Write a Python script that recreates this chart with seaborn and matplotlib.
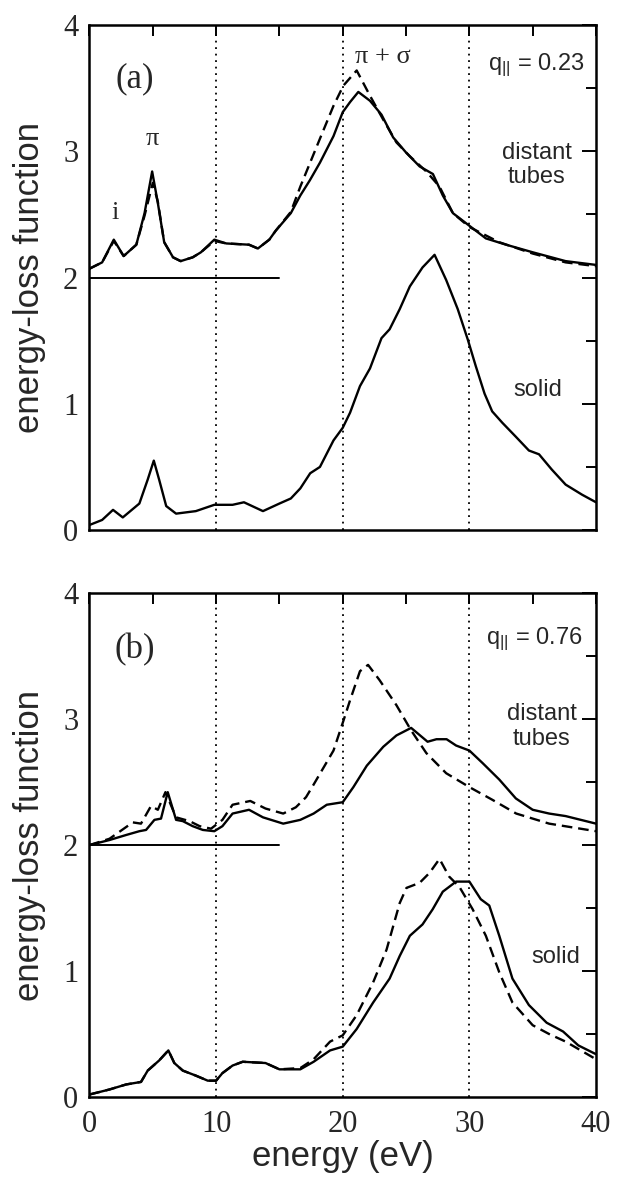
import numpy as np
import pandas as pd
import seaborn as sns
import matplotlib.pyplot as plt
from matplotlib.ticker import MultipleLocator

sns.set_style("white")
plt.rcParams['font.family'] = ['Liberation Sans', 'DejaVu Sans']
plt.rcParams['mathtext.fontset'] = 'custom'
plt.rcParams['mathtext.rm'] = 'Liberation Sans'
plt.rcParams['mathtext.it'] = 'Liberation Sans'

# ---- panel (a), q = 0.23 ----
a_dist_E = [0, 1.0, 1.92, 2.7, 3.7, 4.35, 4.95, 5.4, 5.9, 6.6, 7.2, 8.15, 8.8, 9.86, 10.8,
            12.6, 13.3, 14.2, 14.7, 15.9, 16.65, 17.4, 18.2, 19.27, 20.0, 20.58, 21.23,
            22.15, 23.06, 23.98, 25.0, 26.07, 27.12, 27.9, 28.7, 30.0, 31.3, 32.9, 35.0,
            37.6, 40]
a_dist_solid = [2.07, 2.12, 2.30, 2.17, 2.26, 2.51, 2.84, 2.59, 2.28, 2.16, 2.13, 2.16, 2.20,
                2.30, 2.27, 2.26, 2.23, 2.30, 2.37, 2.51, 2.65, 2.77, 2.91, 3.12, 3.31, 3.39,
                3.47, 3.40, 3.29, 3.11, 2.99, 2.88, 2.82, 2.65, 2.51, 2.41, 2.31, 2.26, 2.20,
                2.13, 2.10]

a_dash_E = [0, 1.0, 1.92, 2.7, 3.7, 4.35, 5.0, 5.4, 5.9, 6.6, 7.2, 8.15, 8.8, 9.86, 10.8,
            12.6, 13.3, 14.2, 14.7, 15.9, 16.65, 18.2, 19.27, 20.05, 21.1, 22.15, 23.2,
            24.24, 25.3, 26.6, 27.64, 28.7, 30.0, 32.35, 35.0, 37.6, 40]
a_dist_dashed = [2.07, 2.12, 2.29, 2.17, 2.26, 2.49, 2.75, 2.60, 2.28, 2.16, 2.13, 2.16, 2.20,
                 2.29, 2.27, 2.26, 2.23, 2.30, 2.37, 2.52, 2.72, 3.10, 3.36, 3.52, 3.64, 3.44,
                 3.25, 3.07, 2.96, 2.84, 2.72, 2.51, 2.40, 2.28, 2.19, 2.12, 2.09]

a_bulk_E = [0, 1.0, 1.86, 2.63, 3.94, 4.6, 5.08, 5.5, 6.06, 6.84, 8.4, 9.86, 11.3, 12.2, 13.7,
            15.0, 15.9, 16.65, 17.43, 18.2, 19.27, 20.0, 20.58, 21.36, 22.15, 23.06, 23.7,
            24.5, 25.3, 26.3, 27.25, 28.17, 29.08, 29.87, 30.5, 31.2, 31.8, 32.6, 33.66,
            34.7, 35.5, 36.5, 37.6, 38.9, 40]
a_bulk_solid = [0.04, 0.08, 0.16, 0.10, 0.21, 0.40, 0.55, 0.40, 0.19, 0.13, 0.15, 0.20, 0.20,
                0.22, 0.15, 0.21, 0.25, 0.33, 0.45, 0.50, 0.71, 0.81, 0.93, 1.14, 1.28, 1.52,
                1.59, 1.75, 1.93, 2.08, 2.18, 1.98, 1.75, 1.51, 1.30, 1.08, 0.94, 0.85, 0.74,
                0.63, 0.60, 0.48, 0.36, 0.28, 0.22]

# ---- panel (b), q = 0.76 ----
b_dist_E = [0, 1.58, 2.9, 3.94, 4.47, 5.13, 5.65, 6.18, 6.84, 7.37, 8.15, 8.95, 9.86, 10.5,
            11.3, 12.6, 13.7, 15.3, 16.65, 17.7, 18.74, 20.0, 20.84, 21.9, 23.2, 24.24, 25.4,
            26.7, 27.4, 28.2, 28.95, 30.0, 31.05, 32.36, 33.67, 35.0, 36.3, 37.6, 40]
b_dist_solid = [2.0, 2.04, 2.08, 2.11, 2.12, 2.20, 2.21, 2.42, 2.20, 2.19, 2.15, 2.12, 2.11,
                2.15, 2.25, 2.28, 2.22, 2.17, 2.20, 2.25, 2.32, 2.34, 2.46, 2.63, 2.78, 2.87,
                2.93, 2.82, 2.84, 2.84, 2.79, 2.75, 2.65, 2.52, 2.37, 2.28, 2.25, 2.23, 2.17]

b_dash_E = [0, 1.58, 3.42, 4.07, 4.86, 5.4, 6.0, 6.84, 7.9, 8.7, 9.6, 10.5, 11.3, 12.7, 13.9,
            15.3, 16.3, 17.1, 17.7, 19.27, 20.0, 20.58, 21.36, 22.0, 22.9, 24.24, 25.4, 26.6,
            28.17, 30.0, 31.8, 33.7, 36.3, 40]
b_dist_dashed = [2.0, 2.05, 2.18, 2.17, 2.31, 2.28, 2.42, 2.22, 2.19, 2.15, 2.13, 2.20, 2.32,
                 2.35, 2.29, 2.25, 2.30, 2.38, 2.48, 2.75, 2.97, 3.15, 3.38, 3.43, 3.31, 3.11,
                 2.91, 2.73, 2.57, 2.46, 2.36, 2.25, 2.17, 2.11]

b_bulk_E = [0, 1.58, 2.9, 4.07, 4.6, 5.5, 6.23, 6.7, 7.37, 8.4, 9.34, 10.0, 10.5, 11.3, 12.1,
            13.9, 15.0, 16.65, 17.7, 19.0, 20.0, 21.1, 22.4, 23.7, 24.5, 25.3, 26.3, 27.1,
            27.9, 28.95, 30.0, 30.9, 31.57, 32.36, 33.4, 34.7, 36.1, 37.4, 38.6, 40]
b_bulk_solid = [0.02, 0.06, 0.10, 0.12, 0.21, 0.29, 0.37, 0.27, 0.21, 0.17, 0.13, 0.13, 0.19,
                0.25, 0.28, 0.27, 0.22, 0.22, 0.28, 0.37, 0.40, 0.54, 0.75, 0.94, 1.12, 1.28,
                1.37, 1.49, 1.63, 1.71, 1.71, 1.57, 1.52, 1.28, 0.94, 0.73, 0.59, 0.52, 0.41,
                0.34]

b_bulk_dash_E = [0, 1.58, 2.9, 4.07, 4.6, 5.5, 6.23, 6.7, 7.37, 8.4, 9.34, 10.0, 10.5, 11.3,
                 12.1, 13.9, 15.0, 16.65, 17.7, 19.0, 20.0, 21.1, 22.4, 23.46, 24.5, 25.03,
                 26.07, 26.86, 27.64, 28.4, 29.2, 30.26, 31.3, 32.36, 33.4, 35.0, 36.3, 37.6, 40]
b_bulk_dashed = [0.02, 0.06, 0.10, 0.12, 0.21, 0.29, 0.37, 0.27, 0.21, 0.17, 0.13, 0.13, 0.19,
                 0.25, 0.28, 0.27, 0.22, 0.23, 0.30, 0.44, 0.49, 0.65, 0.91, 1.17, 1.54, 1.66,
                 1.70, 1.78, 1.89, 1.75, 1.67, 1.49, 1.28, 0.99, 0.75, 0.57, 0.50, 0.44, 0.30]

x_ticks = [0, 10, 20, 30, 40]
y_ticks = [0, 1, 2, 3, 4]
guide_lines = [10, 20, 30]
baseline_level = 2
baseline_end = 15

serif = ['Liberation Serif', 'DejaVu Serif']
sans = ['Liberation Sans', 'DejaVu Sans']
DASH = (0, (4.5, 2.5))

fig = plt.figure(figsize=(6.17, 11.8), dpi=100)
ax_a = fig.add_axes([0.145, 0.5508, 0.821, 0.4280])
ax_b = fig.add_axes([0.145, 0.0703, 0.821, 0.4271])


def style_axes(ax, show_xlabels):
    ax.set_xlim(0, 40)
    ax.set_ylim(0, 4)
    ax.xaxis.set_major_locator(MultipleLocator(10))
    ax.xaxis.set_minor_locator(MultipleLocator(5))
    ax.yaxis.set_major_locator(MultipleLocator(1))
    ax.yaxis.set_minor_locator(MultipleLocator(0.5))
    ax.tick_params(which='both', direction='in', top=True, right=True, width=1.4, color='black')
    ax.tick_params(axis='y', which='major', length=10, pad=8)
    ax.tick_params(axis='y', which='minor', length=7)
    ax.tick_params(axis='x', which='both', length=8, pad=9)
    ax.set_yticks(y_ticks)
    ax.set_yticklabels([str(t) for t in y_ticks], fontsize=22, family=serif)
    ax.set_xticks(x_ticks)
    if show_xlabels:
        ax.set_xticklabels([str(t) for t in x_ticks], fontsize=22, family=serif)
        ax.set_xlabel('energy (eV)', fontsize=25, family=sans)
        ax.xaxis.set_label_coords(0.5, -0.085)
    else:
        ax.set_xticklabels([])
    ax.set_ylabel('energy-loss function', fontsize=25, family=sans)
    ax.yaxis.set_label_coords(-0.085, 0.5)
    for s in ax.spines.values():
        s.set_linewidth(1.8)
        s.set_color('black')
    for g in guide_lines:
        ax.axvline(g, color='black', linestyle=(0, (1, 2.6)), linewidth=1.3, zorder=1)
    ax.plot([0, baseline_end], [baseline_level, baseline_level], color='black', linewidth=1.4)


# panel (a)
sns.lineplot(x=a_dist_E, y=a_dist_solid, ax=ax_a, color='black', linewidth=1.7)
sns.lineplot(x=a_dash_E, y=a_dist_dashed, ax=ax_a, color='black', linewidth=1.7, linestyle=DASH)
sns.lineplot(x=a_bulk_E, y=a_bulk_solid, ax=ax_a, color='black', linewidth=1.7)
style_axes(ax_a, False)
ax_a.text(3.6, 3.57, '(a)', fontsize=25, family=serif, ha='center', va='center')
ax_a.text(5.0, 3.1, 'π', fontsize=19, family=serif, ha='center', va='center')
ax_a.text(2.0, 2.51, 'i', fontsize=19, family=serif, ha='center', va='center')
ax_a.text(23.2, 3.75, 'π + σ', fontsize=19, family=serif, ha='center', va='center')
ax_a.text(39.1, 3.68, r'$\mathregular{q_{||}}$ = 0.23', fontsize=17, family=sans, ha='right', va='center')
ax_a.text(35.3, 2.89, 'distant\ntubes', fontsize=17, family=sans, ha='center', va='center',
          linespacing=1.15)
ax_a.text(35.4, 1.11, 'solid', fontsize=17, family=sans, ha='center', va='center')

# panel (b)
sns.lineplot(x=b_dist_E, y=b_dist_solid, ax=ax_b, color='black', linewidth=1.7)
sns.lineplot(x=b_dash_E, y=b_dist_dashed, ax=ax_b, color='black', linewidth=1.7, linestyle=DASH)
sns.lineplot(x=b_bulk_E, y=b_bulk_solid, ax=ax_b, color='black', linewidth=1.7)
sns.lineplot(x=b_bulk_dash_E, y=b_bulk_dashed, ax=ax_b, color='black', linewidth=1.7, linestyle=DASH)
style_axes(ax_b, True)
ax_b.text(3.6, 3.55, '(b)', fontsize=25, family=serif, ha='center', va='center')
ax_b.text(38.9, 3.63, r'$\mathregular{q_{||}}$ = 0.76', fontsize=17, family=sans, ha='right', va='center')
ax_b.text(35.7, 2.94, 'distant\ntubes', fontsize=17, family=sans, ha='center', va='center',
          linespacing=1.15)
ax_b.text(36.8, 1.11, 'solid', fontsize=17, family=sans, ha='center', va='center')

fig.savefig('out.png', dpi=100)
